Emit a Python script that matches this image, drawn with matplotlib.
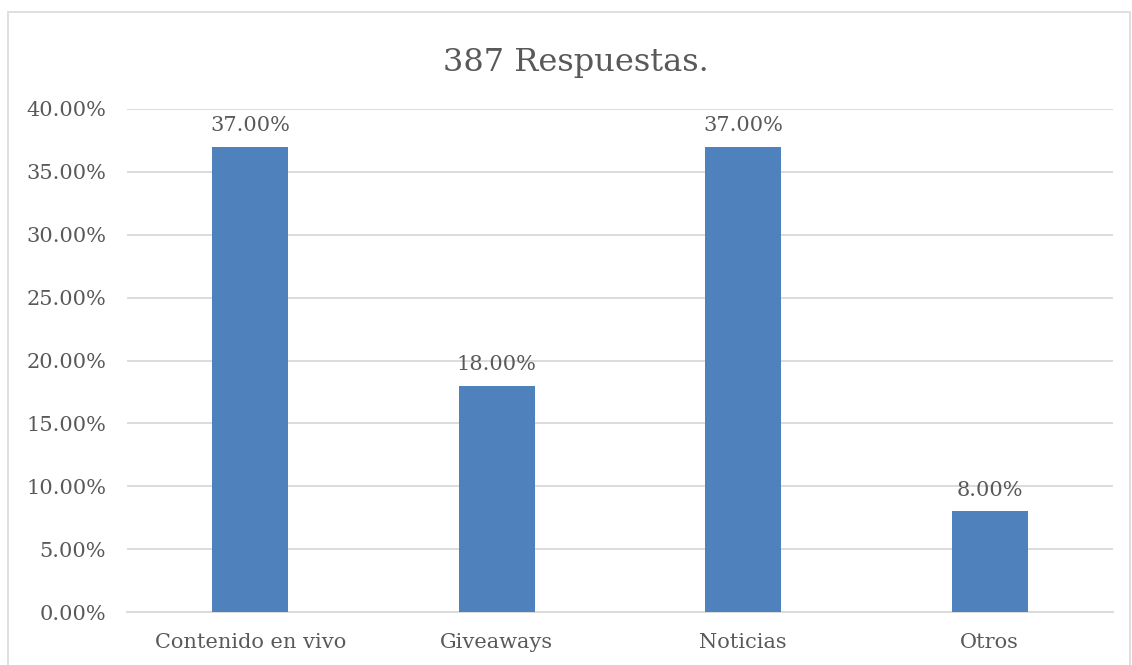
import matplotlib
matplotlib.use("Agg")
import matplotlib.pyplot as plt
from matplotlib.patches import Rectangle
from matplotlib.ticker import FuncFormatter, MultipleLocator

categories = ["Contenido en vivo", "Giveaways", "Noticias", "Otros"]
values = [37.00, 18.00, 37.00, 8.00]
title = "387 Respuestas."

text_color = "#595959"
bar_color = "#4F81BD"
grid_color = "#D9D9D9"

plt.rcParams["font.family"] = ["DejaVu Serif"]

fig = plt.figure(figsize=(11.32, 6.65), dpi=100)
fig.patch.set_facecolor("white")

# chart frame
fig.patches.append(Rectangle((8 / 1132, -0.05), 1122 / 1132, 1.05 - 12 / 665,
                             transform=fig.transFigure, fill=False,
                             edgecolor="#D9D9D9", linewidth=1.2))

ax = fig.add_axes([127 / 1132, 1 - 612 / 665, 986 / 1132, (612 - 109) / 665])
x = range(len(categories))
bars = ax.bar(x, values, width=0.31, color=bar_color, zorder=3)

ax.set_xlim(-0.5, len(categories) - 0.5)
ax.set_ylim(0, 40)
ax.yaxis.set_major_locator(MultipleLocator(5))
ax.yaxis.set_major_formatter(FuncFormatter(lambda v, p: f"{v:.2f}%"))
ax.grid(axis="y", color=grid_color, linewidth=1.3, zorder=0)
ax.set_axisbelow(True)

for s in ["top", "right", "left"]:
    ax.spines[s].set_visible(False)
ax.spines["bottom"].set_color(grid_color)
ax.spines["bottom"].set_linewidth(1.3)

ax.set_xticks(list(x))
ax.set_xticklabels(categories)
ax.tick_params(axis="both", length=0, labelsize=15, colors=text_color)
ax.tick_params(axis="y", pad=15)
ax.tick_params(axis="x", pad=15)

for b, v in zip(bars, values):
    ax.annotate(f"{v:.2f}%", (b.get_x() + b.get_width() / 2, v),
                xytext=(0, 8.5), textcoords="offset points",
                ha="center", va="bottom", fontsize=15, color=text_color)

fig.text(0.5 + 10 / 1132, 1 - 62 / 665, title, ha="center", va="center",
         fontsize=23, color=text_color)

fig.savefig("out.png", dpi=100)
